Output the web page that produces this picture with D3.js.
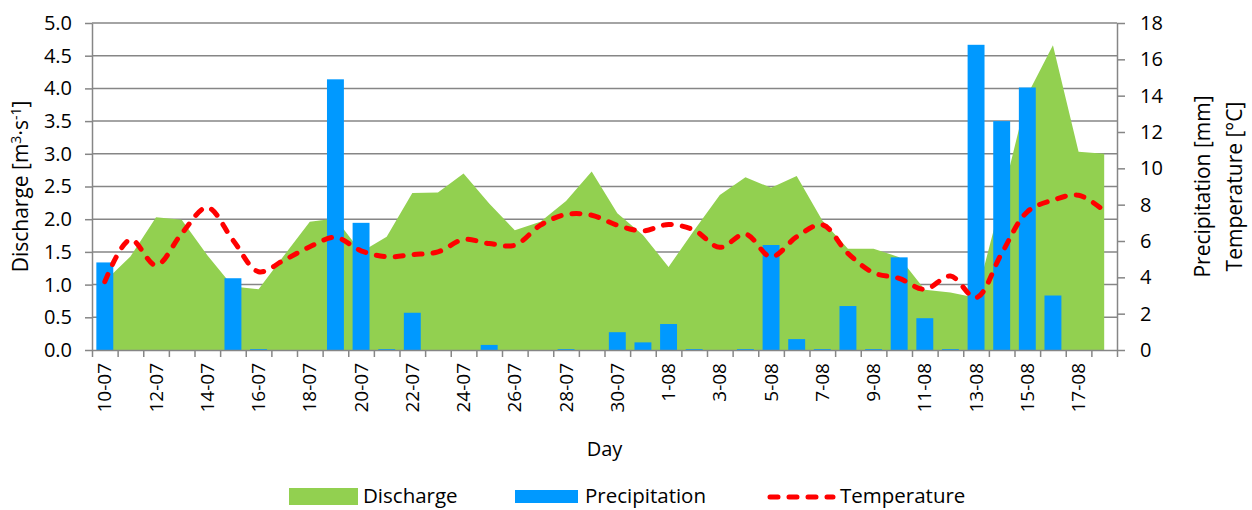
<!DOCTYPE html>
<html>
<head>
<meta charset="utf-8">
<script src="https://cdn.jsdelivr.net/npm/d3@7"></script>
<style>
  body { margin: 0; background: #fff; }
  svg text { font-family: "Open Sans", "Noto Sans", sans-serif; fill: #000; }
</style>
</head>
<body>
<div id="chart"></div>
<script>
// Days shown on the category axis
var days = ["10-07", "11-07", "12-07", "13-07", "14-07", "15-07", "16-07", "17-07", "18-07", "19-07",
  "20-07", "21-07", "22-07", "23-07", "24-07", "25-07", "26-07", "27-07", "28-07", "29-07",
  "30-07", "31-07", "1-08", "2-08", "3-08", "4-08", "5-08", "6-08", "7-08", "8-08",
  "9-08", "10-08", "11-08", "12-08", "13-08", "14-08", "15-08", "16-08", "17-08", "18-08"];

// Discharge [m3/s] (left axis)
var discharge = [1.05, 1.43, 2.03, 1.99, 1.45, 0.97, 0.93, 1.45, 1.96, 2.01,
  1.50, 1.73, 2.40, 2.41, 2.70, 2.24, 1.83, 1.96, 2.28, 2.73,
  2.09, 1.76, 1.27, 1.83, 2.37, 2.64, 2.48, 2.66, 1.98, 1.55,
  1.55, 1.42, 0.92, 0.88, 0.80, 2.30, 3.90, 4.66, 3.03, 3.00];

// Precipitation [mm] (right axis)
var precipitation = [4.82, 0, 0, 0, 0, 3.95, 0.05, 0, 0, 14.9,
  7.0, 0.05, 2.05, 0, 0, 0.28, 0, 0, 0.05, 0,
  0.98, 0.42, 1.43, 0.05, 0, 0.05, 5.78, 0.6, 0.05, 2.42,
  0.05, 5.1, 1.75, 0.05, 16.8, 12.6, 14.45, 3.0, 0, 0];

// Temperature [°C] (right axis)
var temperature = [3.76, 6.08, 4.67, 6.41, 7.84, 6.05, 4.31, 4.95, 5.68, 6.2,
  5.46, 5.13, 5.25, 5.4, 6.08, 5.86, 5.77, 6.87, 7.46, 7.42,
  6.87, 6.56, 6.91, 6.6, 5.65, 6.38, 5.13, 6.23, 6.89, 5.32,
  4.25, 3.94, 3.34, 4.07, 2.88, 5.32, 7.61, 8.25, 8.52, 7.66];

// Axis ticks
var leftTicks = [0, 0.5, 1, 1.5, 2, 2.5, 3, 3.5, 4, 4.5, 5];
var rightTicks = [0, 2, 4, 6, 8, 10, 12, 14, 16, 18];

var W = 1252, H = 510;
var plot = { left: 92, right: 1117, top: 23, bottom: 350 };
var axisColor = "#868686";

var svg = d3.select("#chart")
  .append("svg")
  .attr("width", W)
  .attr("height", H);

// Scales
var x = d3.scaleBand()
  .domain(days)
  .range([plot.left, plot.right])
  .padding(0);
var xEdge = d3.scaleLinear()
  .domain([0, days.length])
  .range([plot.left, plot.right]);
var yL = d3.scaleLinear()
  .domain([0, 5])
  .range([plot.bottom, plot.top]);
var yR = d3.scaleLinear()
  .domain([0, 18])
  .range([plot.bottom, plot.top]);

var cx = function(d, i) { return x(days[i]) + x.bandwidth() / 2; };

// Gridlines (behind everything)
svg.append("g")
  .selectAll("line")
  .data(leftTicks.slice(1))
  .enter().append("line")
  .attr("x1", plot.left)
  .attr("x2", plot.right)
  .attr("y1", function(d) { return yL(d); })
  .attr("y2", function(d) { return yL(d); })
  .attr("stroke", axisColor)
  .attr("stroke-width", 1.5);

// Discharge area
var area = d3.area()
  .x(cx)
  .y0(yL(0))
  .y1(function(d) { return yL(d); });
svg.append("path")
  .datum(discharge)
  .attr("d", area)
  .attr("fill", "#92D050");

// Precipitation bars
var barW = x.bandwidth() * 0.66;
svg.append("g")
  .selectAll("rect")
  .data(precipitation)
  .enter().append("rect")
  .attr("x", function(d, i) { return cx(d, i) - barW / 2; })
  .attr("y", function(d) { return yR(d); })
  .attr("width", barW)
  .attr("height", function(d) { return yR(0) - yR(d); })
  .attr("fill", "#0099FF");

// Temperature line
var line = d3.line()
  .x(cx)
  .y(function(d) { return yR(d); })
  .curve(d3.curveCatmullRom);
svg.append("path")
  .datum(temperature)
  .attr("d", line)
  .attr("fill", "none")
  .attr("stroke", "#FF0000")
  .attr("stroke-width", 5)
  .attr("stroke-linecap", "round")
  .attr("stroke-dasharray", "8,11");

// Left axis
var gL = svg.append("g")
  .attr("transform", "translate(" + plot.left + ",0)")
  .call(d3.axisLeft(yL).tickValues(leftTicks).tickFormat(d3.format(".1f"))
    .tickSize(7).tickPadding(13).tickSizeOuter(0));
gL.selectAll("text").style("font-size", "20px");

// Right axis
var gR = svg.append("g")
  .attr("transform", "translate(" + plot.right + ",0)")
  .call(d3.axisRight(yR).tickValues(rightTicks)
    .tickSize(8).tickPadding(15).tickSizeOuter(0));
gR.selectAll("text").style("font-size", "20px");

// Bottom axis: tick marks on category edges
var gB = svg.append("g")
  .attr("transform", "translate(0," + plot.bottom + ")")
  .call(d3.axisBottom(xEdge).ticks(days.length).tickFormat("").tickSize(7).tickSizeOuter(0));

// Bottom axis: labels every other day
var gBL = svg.append("g")
  .attr("transform", "translate(0," + plot.bottom + ")")
  .call(d3.axisBottom(x)
    .tickValues(days.filter(function(d, i) { return i % 2 === 0; }))
    .tickSize(0).tickPadding(0));
gBL.select(".domain").remove();
gBL.selectAll("text")
  .style("font-size", "19px")
  .attr("text-anchor", "end")
  .attr("transform", "rotate(-90)")
  .attr("x", -13)
  .attr("y", 0)
  .attr("dy", "0.35em");

svg.selectAll(".domain, .tick line")
  .attr("stroke", axisColor)
  .attr("stroke-width", 1.5);

// Axis titles
svg.append("text")
  .attr("x", (plot.left + plot.right) / 2)
  .attr("y", 456)
  .attr("text-anchor", "middle")
  .style("font-size", "20px")
  .text("Day");

var tL = svg.append("text")
  .attr("transform", "translate(28," + ((plot.top + plot.bottom) / 2) + ") rotate(-90)")
  .attr("text-anchor", "middle")
  .style("font-size", "21px");
tL.append("tspan").text("Discharge [m");
tL.append("tspan").attr("dy", -7).style("font-size", "14px").text("3");
tL.append("tspan").attr("dy", 7).text("·s");
tL.append("tspan").attr("dy", -7).style("font-size", "14px").text("-1");
tL.append("tspan").attr("dy", 7).text("]");

svg.append("text")
  .attr("transform", "translate(1210," + ((plot.top + plot.bottom) / 2) + ") rotate(-90)")
  .attr("text-anchor", "middle")
  .style("font-size", "21px")
  .text("Precipitation [mm]");
svg.append("text")
  .attr("transform", "translate(1242," + ((plot.top + plot.bottom) / 2) + ") rotate(-90)")
  .attr("text-anchor", "middle")
  .style("font-size", "21px")
  .text("Temperature [°C]");

// Legend
var legend = svg.append("g");
legend.append("rect")
  .attr("x", 289).attr("y", 488).attr("width", 69).attr("height", 17)
  .attr("fill", "#92D050");
legend.append("text").attr("x", 363).attr("y", 503).style("font-size", "20.5px").text("Discharge");
legend.append("rect")
  .attr("x", 515).attr("y", 490).attr("width", 63).attr("height", 13)
  .attr("fill", "#0099FF");
legend.append("text").attr("x", 585).attr("y", 503).style("font-size", "20.5px").text("Precipitation");
legend.append("line")
  .attr("x1", 770).attr("x2", 833).attr("y1", 497).attr("y2", 497)
  .attr("stroke", "#FF0000")
  .attr("stroke-width", 5)
  .attr("stroke-linecap", "round")
  .attr("stroke-dasharray", "8,11");
legend.append("text").attr("x", 840).attr("y", 503).style("font-size", "20.5px").text("Temperature");
</script>
</body>
</html>
